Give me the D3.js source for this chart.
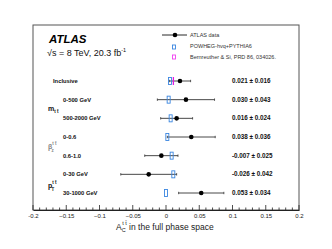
<!DOCTYPE html>
<html><head><meta charset="utf-8">
<script src="https://cdn.jsdelivr.net/npm/d3@7"></script>
<style>body{margin:0;background:#fff}svg{display:block}text{font-family:"Liberation Sans",Arial,sans-serif}</style>
</head><body><svg id="c" width="332" height="249"></svg>
<script>
const rows = ["Inclusive","0-500 GeV","500-2000 GeV","0-0.6","0.6-1.0","0-30 GeV","30-1000 GeV"];
const dataValues = [0.021,0.030,0.016,0.038,-0.007,-0.026,0.053];
const dataErrors = [0.016,0.043,0.024,0.036,0.025,0.042,0.034];
const powhegValues = [0.006,0.004,0.007,0.002,0.0085,0.011,0.000];
const bernreutherValues = [0.0111,null,null,null,null,null,null];
const valueLabels = ["0.021 \u00b1 0.016","0.030 \u00b1 0.043","0.016 \u00b1 0.024","0.038 \u00b1 0.036","-0.007 \u00b1 0.025","-0.026 \u00b1 0.042","0.053 \u00b1 0.034"];
const xTicks = [-0.2,-0.15,-0.1,-0.05,0,0.05,0.1,0.15,0.2];
const xTickLabels = ["-0.2","\u22120.15","\u22120.1","\u22120.05","0","0.05","0.1","0.15","0.2"];
const legendLabels = ["ATLAS data","POWHEG-hvq+PYTHIA6","Bernreuther & Si, PRD 86, 034026."];

const svg = d3.select("#c");
const x = d3.scaleLinear().domain([-0.2,0.2]).range([33,299]);
const y = d3.scalePoint().domain(rows).range([81,193]);
const frameTop=25, frameBottom=210;

// frame
svg.append("rect").attr("x",33).attr("y",frameTop).attr("width",266).attr("height",frameBottom-frameTop)
  .attr("fill","none").attr("stroke","#555").attr("stroke-width",1);

// axis
const axis = d3.axisBottom(x).tickValues(xTicks).tickSize(0).tickPadding(4)
  .tickFormat((d,i)=>xTickLabels[i]);
const gA = svg.append("g").attr("transform",`translate(0,${frameBottom})`).call(axis);
gA.select(".domain").attr("stroke","#222");
gA.selectAll("text").attr("font-size",6).attr("fill","#222");
const minor = d3.range(-0.2,0.2001,0.01);
svg.append("g").selectAll("line").data(minor).join("line")
  .attr("x1",d=>x(d)).attr("x2",d=>x(d)).attr("y1",frameBottom)
  .attr("y2",d=>Math.abs(Math.round(d*100)%5)===0?frameBottom-5:frameBottom-2.5)
  .attr("stroke","#222").attr("stroke-width",0.8);

// axis title
const at = svg.append("text").attr("x",116).attr("y",230).attr("font-size",8.5).attr("fill","#222");
at.append("tspan").text("A");
at.append("tspan").attr("font-size",5.5).attr("dy",2).text("C");
at.append("tspan").attr("font-size",5.5).attr("dx",-3.5).attr("dy",-7).text("t t\u0304");
at.append("tspan").attr("dy",5).text(" in the full phase space");

// ATLAS label
svg.append("text").attr("x",49).attr("y",43).attr("font-size",11.5).attr("font-weight","bold")
  .attr("font-style","italic").text("ATLAS");
const s = svg.append("text").attr("x",47).attr("y",56).attr("font-size",9).attr("fill","#111");
s.append("tspan").text("\u221as = 8 TeV, 20.3 fb");
s.append("tspan").attr("font-size",5.5).attr("dy",-4).text("-1");

// legend
svg.append("line").attr("x1",162).attr("x2",187).attr("y1",35).attr("y2",35).attr("stroke","#111").attr("stroke-width",0.9);
svg.append("circle").attr("cx",175).attr("cy",35).attr("r",2.3).attr("fill","#000");
svg.append("rect").attr("x",172.5).attr("y",45).attr("width",3).attr("height",4).attr("fill","none").attr("stroke","#3a86e0").attr("stroke-width",0.9);
svg.append("rect").attr("x",172.5).attr("y",55).attr("width",3).attr("height",4).attr("fill","none").attr("stroke","#f040f0").attr("stroke-width",0.9);
svg.append("g").selectAll("text").data(legendLabels).join("text")
  .attr("x",190).attr("y",(d,i)=>37+i*11).attr("font-size",5.5).attr("fill","#333").text(d=>d);

// row labels
const rowFS = 5.8;
svg.append("g").selectAll("text").data(rows).join("text")
  .attr("x",(d,i)=>i===0?53:63).attr("y",d=>y(d)+2).attr("font-size",rowFS)
  .attr("font-weight","bold").attr("fill","#111").text(d=>d);

function groupLabel(main, sub, sup, xx, yy, col){
  const t = svg.append("text").attr("x",xx).attr("y",yy).attr("font-size",7).attr("font-weight","bold").attr("fill",col);
  t.append("tspan").text(main);
  if(sup){ t.append("tspan").attr("font-size",4.5).attr("dy",-4).text(sup);
           t.append("tspan").attr("font-size",4.5).attr("dx",-5).attr("dy",6.5).text(sub); }
  else { t.append("tspan").attr("font-size",4.5).attr("dy",2).text(sub); }
}
groupLabel("m","t t\u0304",null,48,111,"#111");
groupLabel("\u03b2","z","t t\u0304",48,149,"#888");
groupLabel("p","T","t t\u0304",48,188,"#111");

// error bars
const g = svg.append("g");
rows.forEach((r,i)=>{
  const yy = y(r), lo = x(dataValues[i]-dataErrors[i]), hi = x(dataValues[i]+dataErrors[i]);
  g.append("line").attr("x1",lo).attr("x2",hi).attr("y1",yy).attr("y2",yy).attr("stroke","#333").attr("stroke-width",0.9);
  [lo,hi].forEach(v=>g.append("line").attr("x1",v).attr("x2",v).attr("y1",yy-1.2).attr("y2",yy+1.2).attr("stroke","#333").attr("stroke-width",0.8));
});
// POWHEG boxes
g.selectAll("rect.p").data(rows).join("rect").attr("class","p")
  .attr("x",(d,i)=>x(powhegValues[i])-1.5).attr("y",d=>y(d)-3.5).attr("width",3).attr("height",7)
  .attr("fill","none").attr("stroke","#3a86e0").attr("stroke-width",0.9);
// Bernreuther
rows.forEach((r,i)=>{ if(bernreutherValues[i]!==null)
  g.append("line").attr("x1",x(bernreutherValues[i])).attr("x2",x(bernreutherValues[i]))
   .attr("y1",y(r)-4).attr("y2",y(r)+4).attr("stroke","#e020e0").attr("stroke-width",1.3);});
// points
g.selectAll("circle.d").data(rows).join("circle").attr("class","d")
  .attr("cx",(d,i)=>x(dataValues[i])).attr("cy",d=>y(d)).attr("r",2.3).attr("fill","#000");

// value labels
svg.append("g").selectAll("text").data(valueLabels).join("text")
  .attr("x",232).attr("y",(d,i)=>y(rows[i])+2).attr("font-size",6.3).attr("font-weight","bold")
  .attr("fill","#111").text(d=>d);
</script></body></html>
